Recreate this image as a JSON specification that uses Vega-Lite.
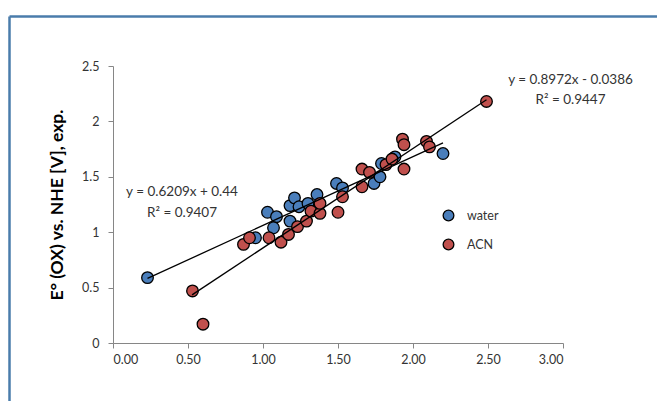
{
  "$schema": "https://vega.github.io/schema/vega-lite/v6.json",
  "autosize": "none",
  "width": 450,
  "height": 277,
  "padding": {"left": 113, "top": 66, "right": 94, "bottom": 58},
  "background": "white",
  "config": {
    "view": {"stroke": null},
    "font": "Lato",
    "axis": {"labelFont": "Lato", "titleFont": "Lato"},
    "legend": {"labelFont": "Lato"}
  },
  "datasets": {
    "frame": [{"fx": 0, "fy": 0}, {"fx": 1, "fy": 1}],
    "points": [
      {"series": "water", "x": 0.23, "y": 0.59},
      {"series": "water", "x": 0.95, "y": 0.95},
      {"series": "water", "x": 1.03, "y": 1.18},
      {"series": "water", "x": 1.09, "y": 1.14},
      {"series": "water", "x": 1.07, "y": 1.04},
      {"series": "water", "x": 1.18, "y": 1.24},
      {"series": "water", "x": 1.18, "y": 1.10},
      {"series": "water", "x": 1.21, "y": 1.31},
      {"series": "water", "x": 1.24, "y": 1.23},
      {"series": "water", "x": 1.30, "y": 1.26},
      {"series": "water", "x": 1.36, "y": 1.34},
      {"series": "water", "x": 1.49, "y": 1.44},
      {"series": "water", "x": 1.53, "y": 1.40},
      {"series": "water", "x": 1.74, "y": 1.44},
      {"series": "water", "x": 1.78, "y": 1.50},
      {"series": "water", "x": 1.79, "y": 1.62},
      {"series": "water", "x": 1.88, "y": 1.68},
      {"series": "water", "x": 2.20, "y": 1.71},
      {"series": "ACN", "x": 0.53, "y": 0.47},
      {"series": "ACN", "x": 0.60, "y": 0.17},
      {"series": "ACN", "x": 0.87, "y": 0.89},
      {"series": "ACN", "x": 0.91, "y": 0.95},
      {"series": "ACN", "x": 1.04, "y": 0.95},
      {"series": "ACN", "x": 1.12, "y": 0.91},
      {"series": "ACN", "x": 1.17, "y": 0.98},
      {"series": "ACN", "x": 1.23, "y": 1.05},
      {"series": "ACN", "x": 1.29, "y": 1.10},
      {"series": "ACN", "x": 1.32, "y": 1.19},
      {"series": "ACN", "x": 1.38, "y": 1.17},
      {"series": "ACN", "x": 1.38, "y": 1.26},
      {"series": "ACN", "x": 1.50, "y": 1.18},
      {"series": "ACN", "x": 1.53, "y": 1.32},
      {"series": "ACN", "x": 1.66, "y": 1.41},
      {"series": "ACN", "x": 1.66, "y": 1.57},
      {"series": "ACN", "x": 1.71, "y": 1.54},
      {"series": "ACN", "x": 1.82, "y": 1.61},
      {"series": "ACN", "x": 1.86, "y": 1.66},
      {"series": "ACN", "x": 1.93, "y": 1.84},
      {"series": "ACN", "x": 1.94, "y": 1.79},
      {"series": "ACN", "x": 1.94, "y": 1.57},
      {"series": "ACN", "x": 2.09, "y": 1.82},
      {"series": "ACN", "x": 2.11, "y": 1.77},
      {"series": "ACN", "x": 2.49, "y": 2.18}
    ],
    "trend": [
      {"series": "water", "x": 0.23, "y": 0.583},
      {"series": "water", "x": 2.20, "y": 1.806},
      {"series": "ACN", "x": 0.527, "y": 0.434},
      {"series": "ACN", "x": 2.49, "y": 2.195}
    ],
    "labels": [
      {"t": "y = 0.6209x + 0.44", "x": 0.46, "y": 1.367},
      {"t": "R² = 0.9407", "x": 0.46, "y": 1.172},
      {"t": "y = 0.8972x - 0.0386", "x": 3.05, "y": 2.374},
      {"t": "R² = 0.9447", "x": 3.05, "y": 2.194}
    ]
  },
  "layer": [
    {
      "data": {"name": "frame"},
      "mark": {"type": "point", "opacity": 0},
      "encoding": {
        "x": {"field": "fx", "type": "quantitative",
              "scale": {"domain": [0, 1], "range": [-104, 544], "nice": false, "zero": false},
              "axis": {"orient": "top", "offset": 50, "domainColor": "#4a7cab", "domainWidth": 2.5, "ticks": false, "labels": false, "grid": false, "title": null}},
        "y": {"field": "fy", "type": "quantitative",
              "scale": {"domain": [0, 1], "range": [340, -50], "nice": false, "zero": false},
              "axis": {"orient": "left", "offset": 104, "domainColor": "#4a7cab", "domainWidth": 2.5, "ticks": false, "labels": false, "grid": false, "title": null}}
      }
    },
    {
      "layer": [
        {
          "data": {"name": "points"},
          "mark": {"type": "point", "shape": "circle", "filled": true, "size": 135, "stroke": "black", "strokeWidth": 1.3, "opacity": 1},
          "encoding": {
            "x": {"field": "x", "type": "quantitative",
                  "scale": {"domain": [0, 3], "nice": false, "zero": false},
                  "axis": {"orient": "bottom", "values": [0, 0.5, 1, 1.5, 2, 2.5, 3], "format": ".2f", "grid": false,
                           "domainColor": "#868686", "tickColor": "#868686", "tickSize": 5, "labelPadding": 5,
                           "labelFontSize": 12.5, "labelColor": "#333333", "title": null}},
            "y": {"field": "y", "type": "quantitative",
                  "scale": {"domain": [0, 2.5], "nice": false, "zero": false},
                  "axis": {"orient": "left", "values": [0, 0.5, 1, 1.5, 2, 2.5], "format": "~g", "grid": false,
                           "domainColor": "#868686", "tickColor": "#868686", "tickSize": 5, "labelPadding": 9,
                           "labelFontSize": 12.5, "labelColor": "#333333",
                           "title": "E° (OX) vs. NHE [V], exp.", "titleFontSize": 17.5, "titleFontWeight": "bold",
                           "titleColor": "#000000", "titlePadding": 15}},
            "color": {"field": "series", "type": "nominal",
                      "scale": {"domain": ["water", "ACN"], "range": ["#4a7ebb", "#c0504d"]},
                      "legend": {"orient": "none", "legendX": 329, "legendY": 143, "title": null,
                                 "symbolType": "circle", "symbolSize": 115, "symbolStrokeColor": "black", "symbolStrokeWidth": 1.3,
                                 "labelFontSize": 12.5, "labelColor": "#333333", "rowPadding": 12, "labelOffset": 12}},
            "order": {"field": "series", "sort": "descending"}
          }
        },
        {
          "data": {"name": "trend"},
          "mark": {"type": "line", "color": "black", "strokeWidth": 1.3},
          "encoding": {
            "x": {"field": "x", "type": "quantitative"},
            "y": {"field": "y", "type": "quantitative"},
            "detail": {"field": "series", "type": "nominal"}
          }
        },
        {
          "data": {"name": "labels"},
          "mark": {"type": "text", "align": "center", "baseline": "middle", "fontSize": 13.5, "color": "#333333", "font": "Lato"},
          "encoding": {
            "x": {"field": "x", "type": "quantitative"},
            "y": {"field": "y", "type": "quantitative"},
            "text": {"field": "t", "type": "nominal"}
          }
        }
      ]
    }
  ],
  "resolve": {"scale": {"x": "independent", "y": "independent"}, "axis": {"x": "independent", "y": "independent"}}
}
